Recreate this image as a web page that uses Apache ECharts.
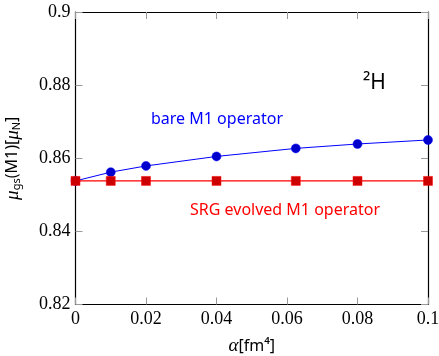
<!DOCTYPE html>
<html>
<head>
<meta charset="utf-8">
<script src="https://cdn.jsdelivr.net/npm/echarts@6/dist/echarts.min.js"></script>
<style>
  html, body { margin: 0; padding: 0; background: #fff; }
  #chart { width: 439px; height: 356px; }
</style>
</head>
<body>
<div id="chart"></div>
<script>
// alpha [fm^4] and mu_gs(M1) values
const alphaBare = [0, 0.01, 0.02, 0.04, 0.0625, 0.08, 0.1];
const muBare = [0.8538, 0.8562, 0.8579, 0.8605, 0.8627, 0.8639, 0.8650];
const alphaSrg = [0, 0.01, 0.02, 0.04, 0.0625, 0.08, 0.1];
const muSrg = [0.8538, 0.8538, 0.8538, 0.8538, 0.8538, 0.8538, 0.8538];
const xRange = [0, 0.1, 0.02];
const yRange = [0.82, 0.9, 0.02];

const serif = 'Liberation Serif';
const sans = 'Noto Sans';

const chart = echarts.init(document.getElementById('chart'));

function tickStyle() {
  return { show: true, inside: true, length: 7, lineStyle: { color: '#999', width: 1 } };
}
function axisLineStyle() {
  return { show: true, onZero: false, lineStyle: { color: '#000', width: 1.2 } };
}

chart.setOption({
  animation: false,
  grid: { left: 75.5, right: 11, top: 12, bottom: 51.5, outerBoundsMode: 'none', containLabel: false },
  xAxis: [
    {
      type: 'value', min: xRange[0], max: xRange[1], interval: xRange[2],
      axisLine: axisLineStyle(), axisTick: tickStyle(), splitLine: { show: false },
      axisLabel: { color: '#000', fontFamily: serif, fontSize: 18, margin: 6 },
      name: '{i|α}[fm⁴]', nameLocation: 'middle', nameGap: 32,
      nameTextStyle: {
        color: '#000', fontFamily: sans, fontSize: 16,
        rich: { i: { fontFamily: serif, fontStyle: 'italic', fontSize: 19 } }
      }
    },
    {
      type: 'value', position: 'top', min: xRange[0], max: xRange[1], interval: xRange[2],
      axisLine: axisLineStyle(), axisTick: tickStyle(), splitLine: { show: false },
      axisLabel: { show: false }
    }
  ],
  yAxis: [
    {
      type: 'value', min: yRange[0], max: yRange[1], interval: yRange[2],
      axisLine: axisLineStyle(), axisTick: tickStyle(), splitLine: { show: false },
      axisLabel: { color: '#000', fontFamily: serif, fontSize: 18, margin: 5 },
      name: '{i|μ}{sub|gs}(M1)[{i|μ}{sub|N}]', nameLocation: 'middle', nameRotate: 90, nameGap: 53,
      nameTextStyle: {
        color: '#000', fontFamily: sans, fontSize: 16,
        rich: {
          i: { fontFamily: serif, fontStyle: 'italic', fontSize: 19 },
          sub: { fontFamily: sans, fontSize: 11, padding: [9, 0, 0, 0] }
        }
      }
    },
    {
      type: 'value', position: 'right', min: yRange[0], max: yRange[1], interval: yRange[2],
      axisLine: axisLineStyle(), axisTick: tickStyle(), splitLine: { show: false },
      axisLabel: { show: false }
    }
  ],
  series: [
    {
      name: 'bare M1 operator', type: 'line', color: '#0000ff',
      data: alphaBare.map((a, i) => [a, muBare[i]]),
      symbol: 'circle', symbolSize: 9,
      lineStyle: { color: '#0000ff', width: 1 },
      itemStyle: { color: '#0000cc', borderColor: '#0000ff', borderWidth: 0.5 },
      z: 3
    },
    {
      name: 'SRG evolved M1 operator', type: 'line', color: '#ff0000',
      data: alphaSrg.map((a, i) => [a, muSrg[i]]),
      symbol: 'rect', symbolSize: 9,
      lineStyle: { color: '#ff0000', width: 1.2 },
      itemStyle: { color: '#cc0000', borderColor: '#ff0000', borderWidth: 0.5 },
      z: 4
    }
  ],
  graphic: [
    {
      type: 'text', left: 151, top: 111,
      style: { text: 'bare M1 operator', fill: '#0000ff', font: '16px "Noto Sans"' }
    },
    {
      type: 'text', left: 190, top: 202,
      style: { text: 'SRG evolved M1 operator', fill: '#ff0000', font: '16px "Noto Sans"' }
    },
    {
      type: 'text', left: 363, top: 73,
      style: { text: '²H', fill: '#000', font: '21px "Noto Sans"' }
    }
  ]
});

window.addEventListener('resize', () => {
  chart.resize();
});
</script>
</body>
</html>
